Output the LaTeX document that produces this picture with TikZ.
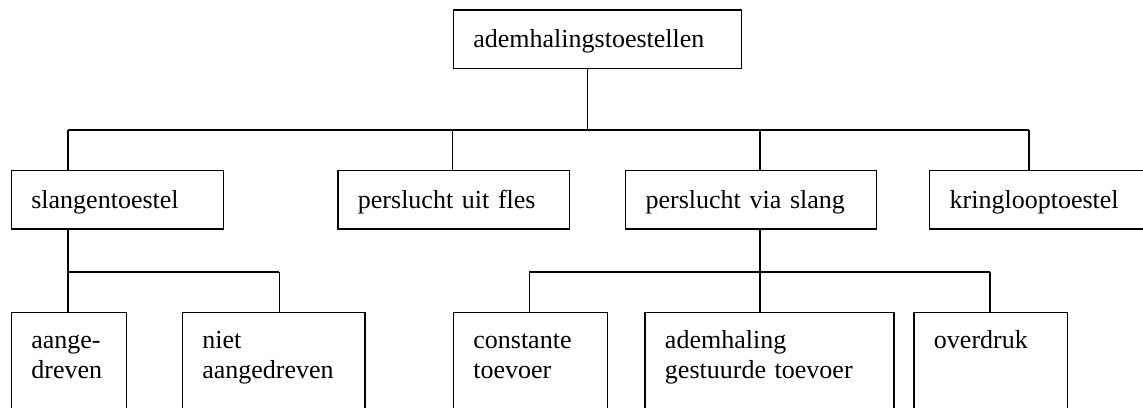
\documentclass[tikz,border=0pt]{standalone}
\usepackage{fontspec}
\setmainfont{Liberation Serif}
\begin{document}
\begin{tikzpicture}[x=1pt,y=-1pt,
  box/.style={draw, line width=1.3pt, anchor=north west, inner xsep=20pt, inner ysep=0pt,
    align=left, font=\fontsize{26pt}{30pt}\selectfont},
  lvlone/.style={box, text height=37.4pt, text depth=21pt},
  lvltwo/.style={box, text height=36.6pt, text depth=100pt},
  conn/.style={line width=1.3pt}]
\useasboundingbox (0,0) rectangle (1143,407);
\clip (0,0) rectangle (1143,407);
% level 1
\node[lvlone, text width=248.3pt] (top) at (452.7,9.3) {ademhalingstoestellen};
% level 2
\node[lvlone, text width=172pt] (slang) at (10.7,170) {slangentoestel};
\node[lvlone, text width=191.4pt] (fles) at (337.3,170) {perslucht uit fles};
\node[lvlone, text width=210.7pt] (via) at (625,170) {perslucht via slang};
\node[lvlone, text width=181pt] (kring) at (929,170) {kringlooptoestel};
% level 3
\node[lvltwo, text width=75.3pt] (aange) at (10.7,311.7) {aange-\\dreven};
\node[lvltwo, text width=142.6pt] (niet) at (181.7,311.7) {niet\\aangedreven};
\node[lvltwo, text width=114pt] (const) at (452.7,311.7) {constante\\toevoer};
\node[lvltwo, text width=209pt] (adem) at (644.3,311.7) {ademhaling\\gestuurde toevoer};
\node[lvltwo, text width=113.7pt] (over) at (913.3,311.7) {overdruk};
% junction coordinates
\coordinate (j0) at (587.3,130);
\coordinate (d1) at (68,130);
\coordinate (d2) at (452.7,130);
\coordinate (d3) at (760,130);
\coordinate (d4) at (1029,130);
\coordinate (e1) at (68,272);
\coordinate (e2) at (279.3,272);
\coordinate (f1) at (529.3,272);
\coordinate (f2) at (760,272);
\coordinate (f3) at (990,272);
% connectors level 1-2
\draw[conn] (top.south -| j0) -- (j0);
\draw[conn] (d1) -- (d4);
\draw[conn] (d1) -- (slang.north -| d1);
\draw[conn] (d2) -- (fles.north -| d2);
\draw[conn] (d3) -- (via.north -| d3);
\draw[conn] (d4) -- (kring.north -| d4);
% connectors level 2-3 left
\draw[conn] (slang.south -| e1) -- (e1);
\draw[conn] (e1) -- (e2);
\draw[conn] (e1) -- (aange.north -| e1);
\draw[conn] (e2) -- (niet.north -| e2);
% connectors level 2-3 right
\draw[conn] (via.south -| f2) -- (f2);
\draw[conn] (f1) -- (f3);
\draw[conn] (f1) -- (const.north -| f1);
\draw[conn] (f2) -- (adem.north -| f2);
\draw[conn] (f3) -- (over.north -| f3);
\end{tikzpicture}
\end{document}
